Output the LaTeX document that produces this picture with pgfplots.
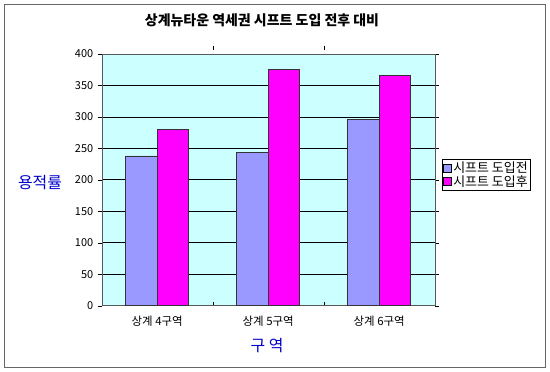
\documentclass[border=0pt]{standalone}
\usepackage{pgfplots}
\pgfplotsset{compat=1.18}
\usepackage{fontspec}
\setmainfont{Noto Sans CJK KR}
\definecolor{bgc}{HTML}{CCFFFF}
\definecolor{lav}{HTML}{9999FF}
\definecolor{mag}{HTML}{FF00FF}
\definecolor{ttl}{HTML}{0000CC}
\begin{document}
\begin{tikzpicture}
\fill[white] (0,0) rectangle (550bp,372bp);
\draw[gray!80!black, line width=1bp] (4.5bp,4.5bp) rectangle (545.5bp,367.5bp);
\node[font=\bfseries\fontsize{14}{16}\selectfont] at (262bp,352bp) {상계뉴타운 역세권 시프트 도입 전후 대비};
\node[font=\fontsize{16}{18}\selectfont, text=ttl] at (40bp,189bp) {용적률};
\node[font=\fontsize{16}{18}\selectfont, text=ttl] at (267bp,26bp) {구\ 역};
\begin{axis}[
  at={(101.7bp,66.3bp)}, anchor=south west,
  width=333bp, height=251.7bp, scale only axis,
  xmin=-0.5, xmax=2.5, ymin=0, ymax=400,
  axis background/.style={fill=bgc},
  axis line style={gray!70!black},
  xtick={0,1,2},
  xticklabels={상계 4구역, 상계 5구역, 상계 6구역},
  minor xtick={0.5,1.5},
  major x tick style={draw=none},
  minor x tick style={black, yshift=4bp},
  minor tick length=4bp,
  ytick={0,50,...,400},
  major tick length=4bp,
  tick align=outside,
  y tick style={black},
  ymajorgrids,
  grid style={black, line width=0.7bp},
  yticklabel style={font=\fontsize{11}{12}\selectfont, xshift=-1bp},
  xticklabel style={font=\fontsize{11.5}{13}\selectfont, yshift=-3bp},
  /pgf/number format/assume math mode=true,
  ybar, bar width=31.5bp,
  legend style={at={(rel axis cs:1,1)}, anchor=north west, xshift=7bp, yshift=-105bp,
    draw=black, font=\fontsize{13}{15}\selectfont, inner sep=1bp, row sep=-3bp,
    cells={anchor=west}},
  legend image code/.code={\draw[#1, draw=black, line width=0.4bp] (0bp,-4bp) rectangle (8bp,4bp);},
]
\addplot[fill=lav, draw=black!80, line width=0.6bp, bar shift=-15.75bp] coordinates {(0,238) (1,244) (2,296)};
\addplot[fill=mag, draw=black!80, line width=0.6bp, bar shift=15.75bp] coordinates {(0,280) (1,376) (2,366)};
\legend{시프트 도입전, 시프트 도입후}
\end{axis}
\end{tikzpicture}
\end{document}
